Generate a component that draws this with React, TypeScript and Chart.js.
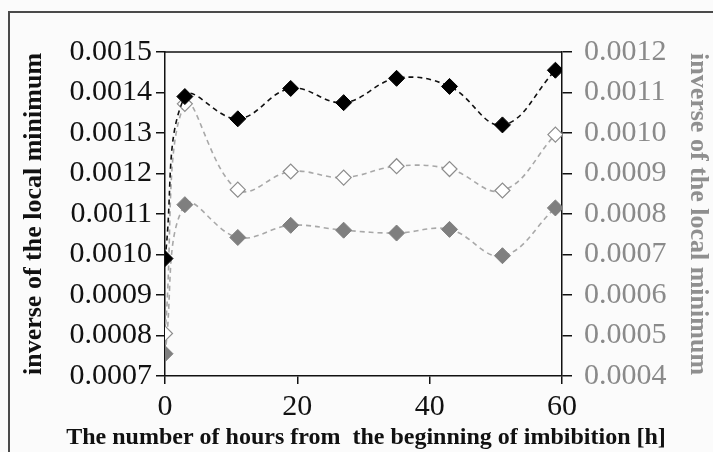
import React, { useEffect, useRef } from "react";
import { Chart, registerables } from "chart.js";

Chart.register(...registerables);

const hours = [0, 3, 11, 19, 27, 35, 43, 51, 59];
const blackSeries = [0.00099, 0.00139, 0.001335, 0.00141, 0.001375, 0.001435, 0.001415, 0.00132, 0.001455];
const openSeries = [0.000505, 0.001072, 0.00086, 0.000905, 0.00089, 0.000918, 0.000911, 0.000858, 0.000996];
const graySeries = [0.000455, 0.000823, 0.000742, 0.000772, 0.00076, 0.000753, 0.000762, 0.000697, 0.000815];

const xTicks = [0, 20, 40, 60];
const leftTitle = "inverse of the local minimum";
const rightTitle = "inverse of the local minimum";
const xTitle = "The number of hours from  the beginning of imbibition [h]";

const FONT = "'Liberation Serif', 'Times New Roman', serif";

const framePlugin = {
  id: "framePlugin",
  beforeDraw(chart: any) {
    const ctx = chart.ctx;
    ctx.save();
    ctx.fillStyle = "#fbfbfb";
    ctx.fillRect(0, 0, chart.width, chart.height);
    ctx.strokeStyle = "#4a4a4a";
    ctx.lineWidth = 2;
    ctx.beginPath();
    ctx.moveTo(9, chart.height + 2);
    ctx.lineTo(9, 12);
    ctx.lineTo(chart.width + 2, 12);
    ctx.stroke();
    ctx.restore();
  },
  afterDraw(chart: any) {
    const { ctx, chartArea } = chart;
    ctx.save();
    ctx.strokeStyle = "#111";
    ctx.lineWidth = 1.5;
    ctx.beginPath();
    ctx.moveTo(chartArea.left, chartArea.top);
    ctx.lineTo(chartArea.right, chartArea.top);
    ctx.stroke();
    // x axis title
    ctx.fillStyle = "#111";
    ctx.font = "bold 24px " + FONT;
    ctx.textAlign = "center";
    ctx.textBaseline = "middle";
    ctx.fillText(xTitle, 366, 438);
    ctx.restore();
  },
};

export default function App() {
  const ref = useRef<HTMLCanvasElement | null>(null);

  useEffect(() => {
    if (!ref.current) return;
    const toPts = (arr: number[]) => hours.map((h, i) => ({ x: h, y: arr[i] }));
    const chart = new Chart(ref.current, {
      type: "line",
      data: {
        datasets: [
          {
            data: toPts(blackSeries),
            yAxisID: "y",
            borderColor: "#111",
            borderWidth: 1.6,
            borderDash: [5, 4],
            tension: 0.4,
            pointStyle: "rectRot",
            pointRadius: 8,
            pointBackgroundColor: "#000",
            pointBorderColor: "#000",
            pointBorderWidth: 1,
          },
          {
            data: toPts(openSeries),
            yAxisID: "y2",
            borderColor: "#a8a8a8",
            borderWidth: 1.6,
            borderDash: [5, 4],
            tension: 0.4,
            pointStyle: "rectRot",
            pointRadius: 7.5,
            pointBackgroundColor: "#ffffff",
            pointBorderColor: "#8c8c8c",
            pointBorderWidth: 1.2,
          },
          {
            data: toPts(graySeries),
            yAxisID: "y2",
            borderColor: "#a8a8a8",
            borderWidth: 1.6,
            borderDash: [5, 4],
            tension: 0.4,
            pointStyle: "rectRot",
            pointRadius: 8,
            pointBackgroundColor: "#7f7f7f",
            pointBorderColor: "#7f7f7f",
            pointBorderWidth: 1,
          },
        ],
      },
      options: {
        responsive: false,
        animation: false,
        layout: { padding: { top: 52, left: 0, right: 0, bottom: 0 } },
        plugins: { legend: { display: false }, tooltip: { enabled: false } },
        scales: {
          x: {
            type: "linear",
            position: "bottom",
            min: 0,
            max: 60,
            afterFit: (s: any) => {
              s.height = 76;
            },
            afterBuildTicks: (s: any) => {
              s.ticks = xTicks.map((v) => ({ value: v }));
            },
            border: { display: true, color: "#111", width: 1.5 },
            grid: { drawOnChartArea: false, drawTicks: true, tickLength: 8, color: "#111", lineWidth: 1.5 },
            ticks: { color: "#111", font: { family: FONT, size: 30 }, padding: 5, maxRotation: 0 },
            title: { display: false },
          },
          y: {
            type: "linear",
            position: "left",
            min: 0.0007,
            max: 0.0015,
            afterFit: (s: any) => {
              s.width = 165;
            },
            border: { display: true, color: "#111", width: 1.5 },
            grid: { drawOnChartArea: false, drawTicks: true, tickLength: 9, color: "#111", lineWidth: 1.5 },
            ticks: {
              stepSize: 0.0001,
              color: "#111",
              font: { family: FONT, size: 30 },
              padding: 4,
              callback: (v: any) => Number(v).toFixed(4),
            },
            title: {
              display: true,
              text: leftTitle,
              color: "#111",
              font: { family: FONT, size: 26, weight: "bold", lineHeight: 1 },
              padding: { top: 21, bottom: 0 },
            },
          },
          y2: {
            type: "linear",
            position: "right",
            min: 0.0004,
            max: 0.0012,
            afterFit: (s: any) => {
              s.width = 151;
            },
            border: { display: true, color: "#111", width: 1.5 },
            grid: { drawOnChartArea: false, drawTicks: true, tickLength: 10, color: "#111", lineWidth: 1.5 },
            ticks: {
              stepSize: 0.0001,
              color: "#8a8a8a",
              font: { family: FONT, size: 30 },
              padding: 12,
              callback: (v: any) => Number(v).toFixed(4),
            },
            title: {
              display: true,
              text: rightTitle,
              color: "#8f8f8f",
              font: { family: FONT, size: 26, weight: "bold", lineHeight: 1 },
              padding: { top: 2, bottom: 0 },
            },
          },
        },
      },
      plugins: [framePlugin],
    });
    return () => chart.destroy();
  }, []);

  return (
    <div style={{ position: "absolute", left: 0, top: 0, width: 713, height: 452 }}>
      <canvas ref={ref} width={713} height={452} style={{ width: 713, height: 452, display: "block" }} />
    </div>
  );
}
